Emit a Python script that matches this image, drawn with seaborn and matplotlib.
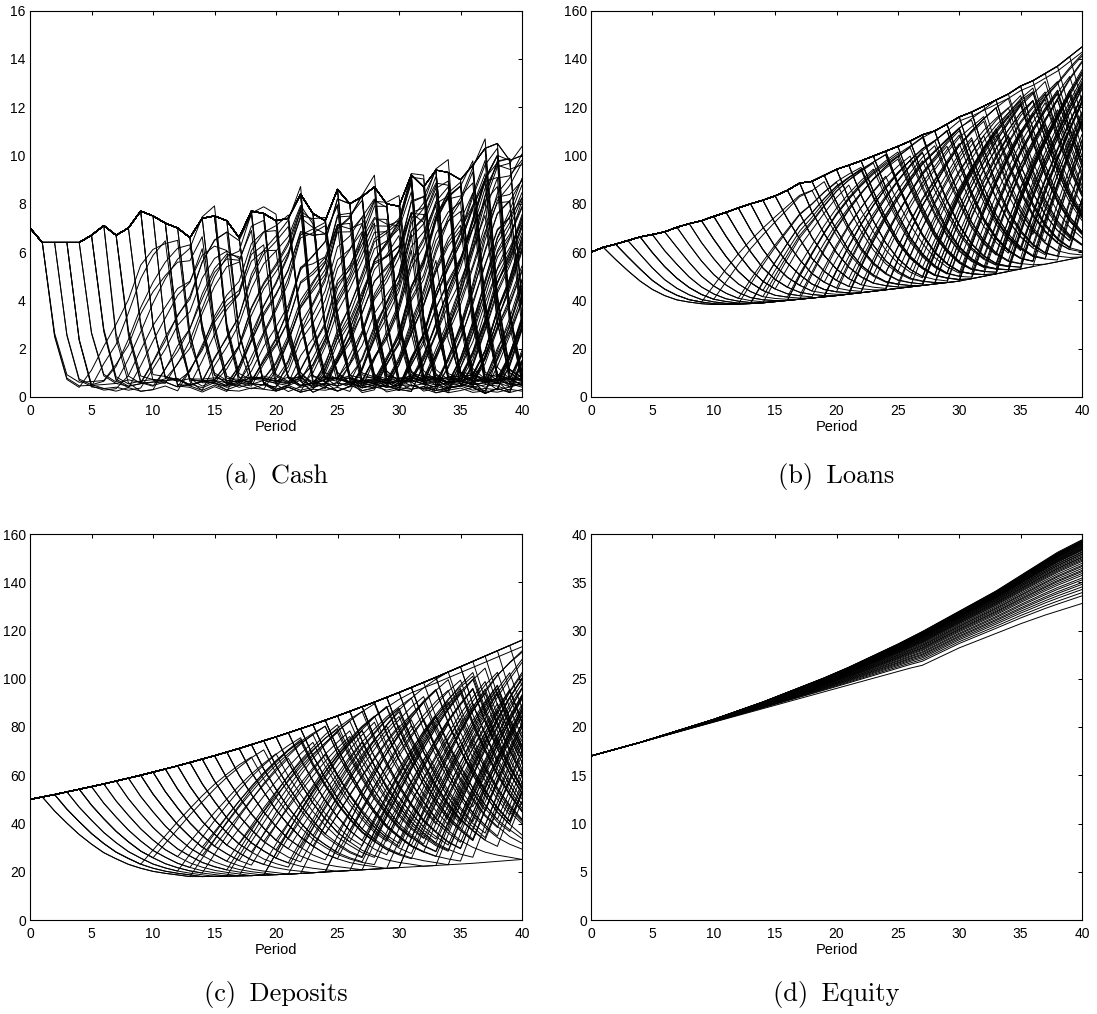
import numpy as np
import pandas as pd
import matplotlib
matplotlib.use("Agg")
import matplotlib.pyplot as plt
import seaborn as sns

# ---------------- data ----------------
periods = list(range(41))

# Cash: level of a bank in the "normal" state and in the "stressed" state
cash_high = [7.0, 6.4, 6.4, 6.4, 6.4, 6.7, 7.1, 6.7, 7.0, 7.7,
             7.5, 7.2, 7.0, 6.6, 7.4, 7.5, 7.3, 6.6, 7.7, 7.6,
             7.3, 7.4, 8.4, 7.6, 7.3, 8.6, 8.0, 8.3, 8.7, 8.0,
             7.9, 9.2, 8.7, 9.4, 9.3, 9.0, 9.6, 10.3, 10.5, 9.8, 10.0]
cash_low = [0.50, 0.50, 0.50, 0.55, 0.40, 0.42, 0.45, 0.50, 0.38, 0.48,
            0.55, 0.50, 0.60, 0.35, 0.50, 0.55, 0.45, 0.40, 0.55, 0.50,
            0.42, 0.58, 0.40, 0.50, 0.45, 0.60, 0.42, 0.50, 0.55, 0.40,
            0.50, 0.45, 0.55, 0.40, 0.50, 0.58, 0.42, 0.50, 0.45, 0.55, 0.48]
cash_low_alt = [0.50, 0.50, 0.50, 0.50, 0.45, 0.38, 0.52, 0.40, 0.55, 0.42,
                0.48, 0.62, 0.42, 0.55, 0.38, 0.60, 0.40, 0.58, 0.45, 0.62,
                0.50, 0.40, 0.62, 0.38, 0.58, 0.45, 0.62, 0.38, 0.50, 0.60,
                0.38, 0.62, 0.45, 0.58, 0.40, 0.48, 0.62, 0.40, 0.60, 0.42, 0.55]
cash_fall = [1.0, 0.34, 0.03, 0.0]
cash_rise = [0.0, 0.12, 0.27, 0.44, 0.60, 0.75, 0.87, 0.95, 1.0]
cash_levels = [0.92, 1.0, 0.86, 1.06, 0.96, 0.89, 1.02, 0.82, 0.98, 0.94, 1.04]
cash_floor_levels = [0.0, 0.02, -0.015, 0.035, 0.01, -0.025, 0.025]

# Periods at which each bank's cash drops / starts to recover (alternating)
cash_events = [
    [1, 4, 12, 16, 25, 29, 36], [2, 6, 13, 18, 26, 31, 38], [3, 9, 17, 21, 28, 33],
    [4, 7, 15, 20, 27, 32, 39], [5, 11, 19, 24, 30, 35], [6, 10, 18, 22, 29, 34],
    [7, 13, 21, 26, 33, 37], [8, 12, 20, 25, 31, 36], [9, 15, 22, 27, 34, 38],
    [10, 14, 23, 28, 35, 39], [11, 17, 24, 29, 37], [12, 16, 25, 30, 36],
    [13, 19, 26, 31, 38], [14, 18, 27, 32, 39], [15, 20, 28, 33], [16, 22, 29, 34],
    [17, 21, 30, 35], [18, 24, 31, 36], [19, 23, 32, 37], [20, 26, 33, 38],
    [21, 25, 34, 39], [22, 28, 35], [23, 27, 36], [24, 30, 37], [25, 29, 38],
    [26, 32, 39], [27, 31], [28, 34], [29, 33], [30, 36], [31, 35], [32, 37],
    [33, 38], [34, 39], [35], [36], [37], [38],
    [1, 6, 14, 19, 27, 32], [2, 5, 11, 17, 24, 28, 35, 39], [3, 7, 16, 23, 30, 34],
    [4, 9, 16, 21, 29, 35], [5, 8, 14, 19, 26, 30, 37], [6, 11, 20, 24, 32, 38],
    [7, 10, 17, 23, 31, 35], [8, 14, 21, 25, 33, 36], [9, 12, 19, 24, 32, 36],
    [10, 16, 22, 26, 34, 37], [11, 15, 23, 27, 33, 40], [12, 18, 24, 28, 35, 38],
    [13, 16, 24, 29, 36, 39], [14, 17, 25, 30, 38], [15, 19, 27, 31, 37],
    [16, 20, 28, 33, 40], [17, 22, 29, 34], [18, 22, 30, 35], [19, 25, 32, 36],
    [20, 24, 31, 37], [21, 24, 32, 38], [22, 26, 34, 39], [23, 29, 35],
    [24, 28, 36], [25, 31, 37], [26, 30, 38], [27, 33, 39], [28, 32], [29, 35],
    [30, 34], [31, 37], [32, 36], [33, 37], [34, 38], [35, 39], [36, 40],
    [1, 9, 18, 23, 31, 36], [3, 12, 20, 26, 33, 38], [5, 14, 22, 28, 34],
    [7, 15, 24, 30, 38], [9, 18, 26, 31], [11, 20, 27, 33, 39], [13, 22, 30, 35],
    [15, 23, 31, 36], [17, 26, 34], [19, 28, 35], [21, 30, 37], [23, 32],
    [25, 34], [27, 36], [29, 38], [31, 39], [33], [20, 27, 31, 38],
    [22, 29, 33, 39], [], [37], [39],
]

# Loans
loans_high = [60.0, 62.0, 63.3, 64.8, 66.3, 67.3, 68.4, 70.3, 71.8, 73.0,
              74.8, 76.5, 78.3, 80.0, 81.5, 83.3, 85.6, 88.6, 89.3, 91.8,
              94.3, 96.0, 97.8, 99.8, 101.8, 103.8, 106.0, 108.6, 110.2, 113.0,
              116.0, 118.0, 120.5, 123.0, 125.5, 128.8, 131.0, 134.0, 137.0, 141.0, 145.0]
loans_low = [40.0, 39.5, 39.0, 38.8, 38.6, 38.5, 38.4, 38.3, 38.3, 38.3,
             38.3, 38.4, 38.5, 38.7, 39.0, 39.5, 40.0, 40.5, 41.0, 41.5,
             42.0, 42.6, 43.2, 43.8, 44.4, 45.0, 45.6, 46.2, 46.8, 47.4,
             48.0, 49.0, 50.0, 51.0, 52.0, 53.0, 54.0, 55.0, 56.0, 57.0, 58.0]
loans_fall = [1.0, 0.74, 0.52, 0.34, 0.21, 0.12, 0.06, 0.03, 0.01, 0.0]
loans_rise = [0.0, 0.20, 0.38, 0.53, 0.65, 0.75, 0.83, 0.89, 0.93, 0.96, 0.98, 1.0]
loans_levels = [1.0, 0.985, 0.97, 0.995, 0.975, 0.96]

# Deposits
deposits_high = [50.0, 51.0, 52.0, 53.1, 54.2, 55.3, 56.4, 57.6, 58.8, 60.0,
                 61.3, 62.6, 63.9, 65.3, 66.7, 68.1, 69.6, 71.1, 72.7, 74.3,
                 75.9, 77.6, 79.3, 81.0, 82.8, 84.6, 86.5, 88.4, 90.3, 92.3,
                 94.3, 96.4, 98.5, 100.6, 102.8, 105.0, 107.2, 109.4, 111.6, 113.8, 116.0]
deposits_low = [20.0, 20.0, 19.5, 19.0, 18.8, 18.6, 18.4, 18.3, 18.2, 18.1,
                18.0, 18.0, 18.0, 18.0, 18.0, 18.1, 18.2, 18.3, 18.4, 18.6,
                18.8, 19.0, 19.3, 19.6, 19.9, 20.2, 20.5, 20.8, 21.1, 21.4,
                21.7, 22.0, 22.3, 22.6, 22.9, 23.2, 23.5, 23.9, 24.3, 24.7, 25.1]
deposits_fall = [1.0, 0.79, 0.62, 0.47, 0.35, 0.25, 0.18, 0.12, 0.08, 0.05, 0.03, 0.015, 0.0]
deposits_rise = [0.0, 0.16, 0.31, 0.45, 0.57, 0.68, 0.77, 0.84, 0.90, 0.94, 0.97, 0.99, 1.0]
deposits_levels = [1.0, 0.98, 0.965, 0.99, 0.97, 0.955]

# Periods at which each bank's loans/deposits start to shrink / recover
bank_events = [
    [1], [2, 16, 27, 35], [3, 12, 22, 30, 37], [4, 14, 24, 32],
    [5, 19, 29, 36], [6, 12, 20, 28, 36], [7, 16, 25, 33], [8, 14, 23, 31, 38],
    [9, 21, 30, 37], [10, 17, 26, 34], [11, 19, 28, 35], [12, 18, 26, 34],
    [13, 20, 29, 36], [14, 22, 30, 38], [15, 21, 31], [16, 24, 33, 39],
    [17, 23, 32], [18, 25, 34], [19, 27, 36], [20, 26, 35],
    [21, 29, 37], [22, 28, 37], [23, 30], [24, 31, 38],
    [25, 32], [26, 33], [27, 35], [28, 34],
    [29, 36], [30, 37], [9, 14, 22, 28, 35], [10, 18, 24, 30, 36],
    [12, 17, 25, 31, 38], [13, 21, 27, 33, 39], [15, 20, 27, 32, 38], [16, 22, 29, 34],
    [17, 25, 31, 37], [18, 23, 30, 35], [19, 24, 32, 38], [20, 25, 31, 36],
    [21, 27, 34, 39], [22, 27, 33], [23, 28, 35], [24, 29, 36],
    [25, 30, 35], [26, 31, 37], [27, 32, 38], [28, 33, 39],
    [29, 34], [30, 35], [31, 36], [32, 37],
    [33, 38], [14, 19, 26, 32, 37], [11, 16, 23, 29, 34, 39], [19, 24, 30, 35, 40],
    [21, 26, 32, 36], [23, 29, 34, 39], [31, 38], [34],
    [], [36], [38], [35],
    [1, 13, 24, 33], [2, 9, 18, 28, 36], [3, 17, 28], [4, 10, 19, 27, 35],
    [5, 13, 22, 31, 39], [6, 24, 34], [7, 19], [8, 26, 36],
    [2, 22], [4, 30], [9, 16, 25, 33, 39], [11, 24, 33],
    [13, 27, 36], [15, 29, 38], [17, 30, 37], [20, 33],
    [22, 34], [24, 35], [26, 36], [18, 27, 33, 39],
    [16, 21, 28, 33, 38], [14, 20, 27, 34], [12, 21, 30, 36], [10, 15, 21, 27, 33, 38],
    [27, 33, 38], [29, 35, 40], [31, 37], [33, 39],
    [35], [37], [], [39],
]

# Equity: upper and lower edge of the fan, position of each path inside it
equity_high = [17.0, 17.35, 17.7, 18.05, 18.4, 18.8, 19.2, 19.6, 20.0, 20.4,
               20.8, 21.25, 21.7, 22.15, 22.6, 23.1, 23.6, 24.1, 24.6, 25.1,
               25.65, 26.2, 26.8, 27.4, 28.0, 28.6, 29.25, 29.9, 30.6, 31.3,
               32.0, 32.7, 33.4, 34.1, 34.9, 35.7, 36.5, 37.3, 38.1, 38.75, 39.4]
equity_low = [17.0, 17.35, 17.7, 18.05, 18.4, 18.75, 19.1, 19.45, 19.8, 20.15,
              20.5, 20.85, 21.2, 21.55, 21.9, 22.25, 22.6, 22.95, 23.3, 23.65,
              24.0, 24.35, 24.7, 25.05, 25.4, 25.75, 26.1, 26.4, 27.0, 27.6,
              28.2, 28.7, 29.2, 29.7, 30.2, 30.7, 31.15, 31.6, 32.0, 32.4, 32.8]
equity_levels = [1.0, 0.99, 0.98, 0.975, 0.97, 0.96, 0.955, 0.95, 0.94, 0.93,
                 0.925, 0.92, 0.91, 0.90, 0.89, 0.88, 0.87, 0.86, 0.85, 0.84,
                 0.83, 0.81, 0.80, 0.78, 0.77, 0.75, 0.73, 0.72, 0.70, 0.68,
                 0.66, 0.63, 0.60, 0.58, 0.55, 0.52, 0.50, 0.47, 0.44, 0.40,
                 0.37, 0.33, 0.30, 0.26, 0.22, 0.17, 0.12, 0.0]

captions = ["(a)\u2002Cash", "(b)\u2002Loans", "(c)\u2002Deposits", "(d)\u2002Equity"]
y_limits = [(0, 16), (0, 160), (0, 160), (0, 40)]
y_steps = [2, 20, 20, 5]


# ---------------- build paths ----------------
def state_weights(events, fall, rise, level, floor_level):
    n = len(periods)
    w = np.ones(n)
    ev = list(events)
    mode, start, w0, cur = "high", 0, 1.0, 1.0
    for t in range(n):
        k = t - start
        if mode == "fall":
            cur = floor_level + (w0 - floor_level) * fall[min(k, len(fall) - 1)]
        elif mode == "rise":
            cur = w0 + (level - w0) * rise[min(k, len(rise) - 1)]
        w[t] = cur
        if ev and ev[0] == t:
            ev.pop(0)
            w0, start = cur, t
            mode = "fall" if mode != "fall" else "rise"
    return w


def frame(rows):
    return pd.DataFrame(rows, columns=["period", "value", "path"])


cash_rows, loans_rows, dep_rows, eq_rows = [], [], [], []
for i, ev in enumerate(cash_events):
    lo_arr = np.array(cash_low if i % 2 == 0 else cash_low_alt)
    hi_arr = np.array(cash_high)
    wc = state_weights(ev, cash_fall, cash_rise,
                       cash_levels[i % len(cash_levels)],
                       cash_floor_levels[i % len(cash_floor_levels)])
    vc = lo_arr + (hi_arr - lo_arr) * wc
    for t in periods:
        cash_rows.append((t, vc[t], i))

for i, ev in enumerate(bank_events):
    wl = state_weights(ev, loans_fall, loans_rise, loans_levels[i % len(loans_levels)], 0.0)
    vl = np.array(loans_low) + (np.array(loans_high) - np.array(loans_low)) * wl
    wd = state_weights(ev, deposits_fall, deposits_rise, deposits_levels[i % len(deposits_levels)], 0.0)
    vd = np.array(deposits_low) + (np.array(deposits_high) - np.array(deposits_low)) * wd
    for t in periods:
        loans_rows.append((t, vl[t], i))
        dep_rows.append((t, vd[t], i))

for i, lv in enumerate(equity_levels):
    for t in periods:
        eq_rows.append((t, equity_low[t] + (equity_high[t] - equity_low[t]) * lv, i))

frames = [frame(cash_rows), frame(loans_rows), frame(dep_rows), frame(eq_rows)]

# ---------------- draw ----------------
sns.set_theme(style="white")
plt.rcParams["font.family"] = ["Liberation Sans", "DejaVu Sans"]

W, H = 1097, 1014
fig = plt.figure(figsize=(W / 100, H / 100), dpi=100)
fig.patch.set_facecolor("white")

boxes = [(30, 10.7, 522, 397), (591, 10.7, 1082, 397),
         (30, 534, 522, 920), (591, 534, 1082, 920)]
caption_y = [476, 476, 995, 995]

for idx, (df, box) in enumerate(zip(frames, boxes)):
    x0, y0, x1, y1 = box
    ax = fig.add_axes([x0 / W, 1 - y1 / H, (x1 - x0) / W, (y1 - y0) / H])
    sns.lineplot(data=df, x="period", y="value", units="path", estimator=None,
                 color="black", linewidth=0.7, ax=ax, legend=False)
    ax.set_xlim(0, 40)
    ax.set_xticks(range(0, 41, 5))
    lo, hi = y_limits[idx]
    ax.set_ylim(lo, hi)
    ax.set_yticks(np.arange(lo, hi + 0.01, y_steps[idx]))
    ax.set_xlabel("Period", fontsize=10.5, labelpad=1.5, color="black")
    ax.set_ylabel("")
    ax.tick_params(direction="in", length=3, width=0.75, top=True, right=True,
                   labelsize=10, colors="black")
    ax.tick_params(axis="x", pad=5)
    ax.tick_params(axis="y", pad=3)
    for s in ax.spines.values():
        s.set_visible(True)
        s.set_color("black")
        s.set_linewidth(0.8)
    ax.grid(False)
    ax.set_facecolor("white")
    cx = (x0 + x1) / 2 / W
    fig.text(cx, 1 - caption_y[idx] / H, captions[idx], ha="center", va="center",
             fontsize=19, family=["cmr10", "DejaVu Serif"], color="black")

fig.savefig("out.png", dpi=100, facecolor="white")
